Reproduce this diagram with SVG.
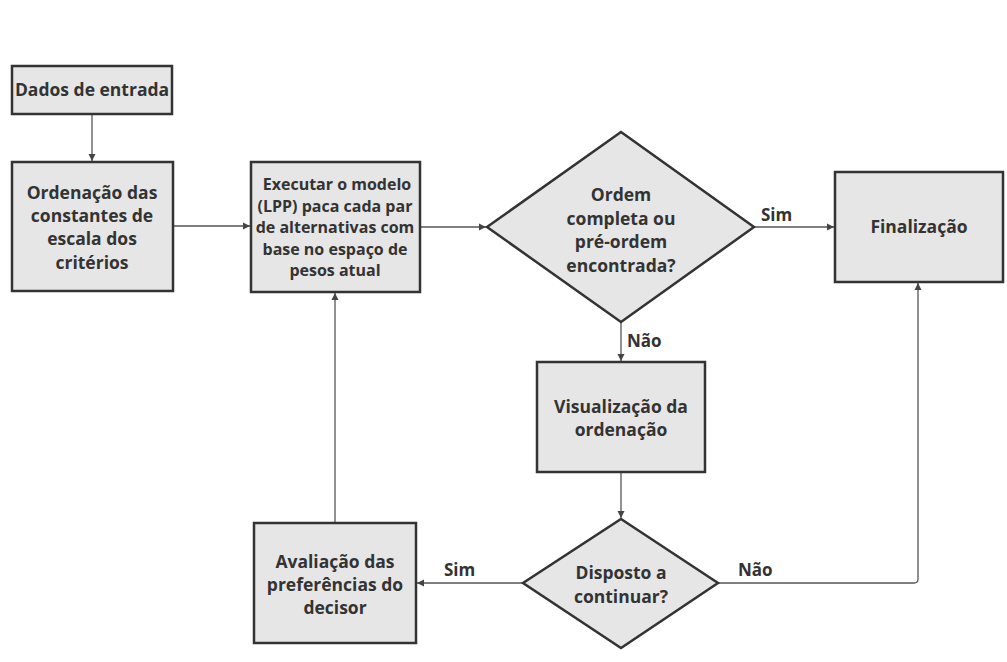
<svg xmlns="http://www.w3.org/2000/svg" width="1007" height="662" viewBox="0 0 1007 662">
<style>
.box{fill:#e6e6e6;stroke:#333;stroke-width:2.5}
.t{font-family:"Open Sans","Liberation Sans",sans-serif;font-weight:700;font-size:17.5px;fill:#333;text-anchor:middle}
.s{font-size:16px}
.lbl{font-family:"Open Sans","Liberation Sans",sans-serif;font-weight:700;font-size:17px;fill:#333}
.c{fill:none;stroke:#555;stroke-width:1.3}
</style>
<defs>
<marker id="ah" markerWidth="8" markerHeight="8" refX="7" refY="4" orient="auto" markerUnits="userSpaceOnUse">
<path d="M0,0.5 L7,4 L0,7.5 Z" fill="#444"/>
</marker>
</defs>
<rect width="1007" height="662" fill="#fff"/>
<g id="connectors">
<path class="c" d="M92,114 V161" marker-end="url(#ah)"/>
<path class="c" d="M173,226 H250" marker-end="url(#ah)"/>
<path class="c" d="M420,227 H486" marker-end="url(#ah)"/>
<path class="c" d="M754,227 H834" marker-end="url(#ah)"/>
<path class="c" d="M621,322 V361" marker-end="url(#ah)"/>
<path class="c" d="M621,472 V518" marker-end="url(#ah)"/>
<path class="c" d="M523,583 H417" marker-end="url(#ah)"/>
<path class="c" d="M335,523 V293" marker-end="url(#ah)"/>
<path class="c" d="M718,583 H914 Q918,583 918,579 V283" marker-end="url(#ah)"/>
<text class="lbl" x="761" y="221">Sim</text>
<text class="lbl" x="627" y="347">Não</text>
<text class="lbl" x="444" y="576">Sim</text>
<text class="lbl" x="738" y="576">Não</text>
</g>
<g id="dados">
<rect class="box" x="12" y="66" width="160" height="48"/>
<text class="t" x="92" y="96">Dados de entrada</text>
</g>
<g id="ordenacao">
<rect class="box" x="12" y="162" width="161" height="129"/>
<text class="t" x="92" y="199">Ordenação das</text>
<text class="t" x="92" y="222">constantes de</text>
<text class="t" x="92" y="245">escala dos</text>
<text class="t" x="92" y="269">critérios</text>
</g>
<g id="executar">
<rect class="box" x="251" y="162" width="169" height="130"/>
<text class="t s" x="337" y="190">Executar o modelo</text>
<text class="t s" x="335" y="212">(LPP) paca cada par</text>
<text class="t s" x="335" y="233">de alternativas com</text>
<text class="t s" x="335" y="255">base no espaço de</text>
<text class="t s" x="335" y="276">pesos atual</text>
</g>
<g id="decisao1">
<polygon class="box" points="621,132 754,227 621,322 487,227"/>
<text class="t" x="621" y="201">Ordem</text>
<text class="t" x="621" y="225">completa ou</text>
<text class="t" x="621" y="248">pré-ordem</text>
<text class="t" x="621" y="272">encontrada?</text>
</g>
<g id="finalizacao">
<rect class="box" x="835" y="172" width="168" height="110"/>
<text class="t" x="919" y="233">Finalização</text>
</g>
<g id="visualizacao">
<rect class="box" x="537" y="362" width="168" height="110"/>
<text class="t" x="621" y="413">Visualização da</text>
<text class="t" x="621" y="436">ordenação</text>
</g>
<g id="decisao2">
<polygon class="box" points="621,519 718,583 621,648 523,583"/>
<text class="t" x="621" y="579">Disposto a</text>
<text class="t" x="621" y="603">continuar?</text>
</g>
<g id="avaliacao">
<rect class="box" x="254" y="523" width="162" height="120"/>
<text class="t" x="335" y="568">Avaliação das</text>
<text class="t" x="335" y="591">preferências do</text>
<text class="t" x="335" y="614">decisor</text>
</g>
</svg>
